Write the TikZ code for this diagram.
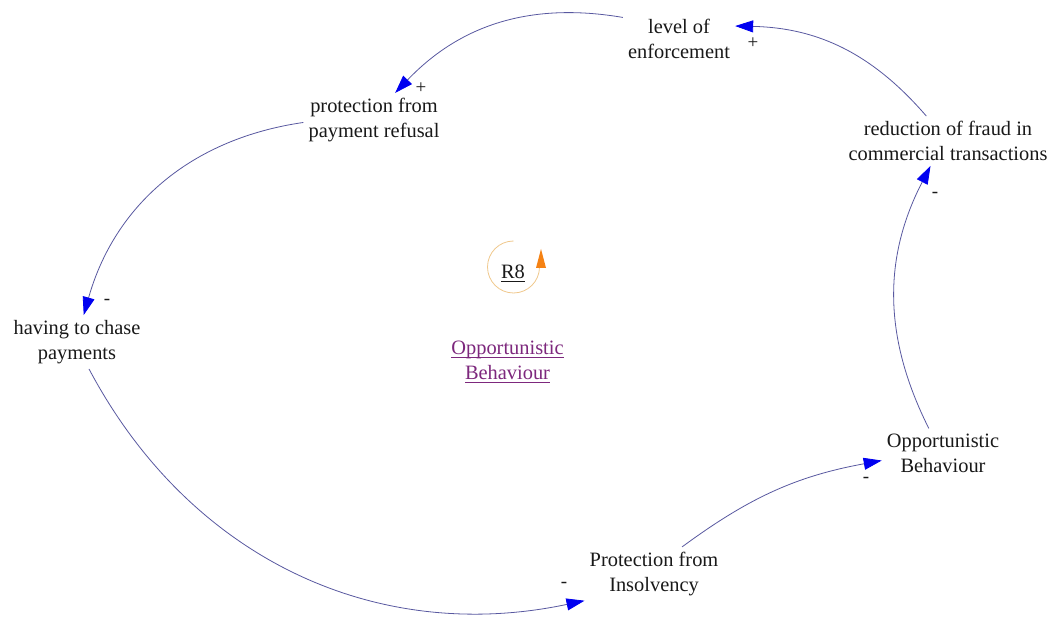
\documentclass[tikz,border=0pt]{standalone}
\usepackage{fontspec}
\setmainfont{Liberation Serif}
\usetikzlibrary{arrows.meta}

\definecolor{linkline}{RGB}{88,88,160}
\definecolor{tipblue}{RGB}{0,0,240}
\definecolor{loopline}{RGB}{240,200,140}
\definecolor{looptip}{RGB}{245,130,20}
\definecolor{loopname}{RGB}{125,40,125}
\definecolor{ink}{RGB}{25,25,25}

% underline drawn a fixed distance below the baseline
\newcommand{\uln}[1]{\leavevmode\setbox0=\hbox{#1}\rlap{\rule[-3.5pt]{\wd0}{0.9pt}}\box0}

\begin{document}
\begin{tikzpicture}[x=1pt,y=-1pt,
  var/.style={align=center, inner sep=5pt, font=\fontsize{20.4}{25}\selectfont, text=ink},
  link/.style={draw=linkline, line width=0.8pt,
    -{Triangle[length=18pt,width=12pt,fill=tipblue,color=tipblue]}},
  pol/.style={font=\fontsize{19}{22}\selectfont, text=ink, inner sep=0pt}]

\fill[white] (0,0) rectangle (1049,617);
\useasboundingbox (0,0) rectangle (1049,617);

% variables
\node[var] (enf)   at (679,39)  {level of\\enforcement};
\node[var] (ppr)   at (374,120) {protection from\\payment refusal};
\node[var] (red)   at (948,141) {reduction of fraud in\\commercial transactions};
\node[var] (chase) at (77,342)  {having to chase\\payments};
\node[var] (ins)   at (654,574) {Protection from\\Insolvency};
\node[var] (opp)   at (943,453) {Opportunistic\\Behaviour};

% causal links
\draw[link] (enf.159)   to[bend right=28] (ppr.52);
\draw[link] (red.131)   to[bend right=24] (enf.13);
\draw[link] (ppr.182)   to[bend right=33] (chase.76);
\draw[link] (chase.294) to[bend right=37] (ins.201);
\draw[link] (ins.44)    to[bend left=13]  (opp.187);
\draw[link] (opp.120)   to[bend left=27]  (red.235);

% link polarities
\node[pol] (p1) at (421,88)  {+};
\node[pol] (p2) at (753,43)  {+};
\node[pol] (p3) at (107,302) {-};
\node[pol] (p4) at (564,585) {-};
\node[pol] (p5) at (866,480) {-};
\node[pol] (p6) at (935,195) {-};

% loop identifier
\draw[loopline, line width=0.8pt] (513.5,241) arc[start angle=270, end angle=0, radius=26];
\fill[looptip] (541,249) -- (546,268) -- (536,268) -- cycle;
\node[var, inner sep=0pt] (r8) at (513,273) {\uln{R8}};
\node[var, text=loopname] (loopname) at (507.5,362) {\uln{Opportunistic}\\\uln{Behaviour}};

\end{tikzpicture}
\end{document}
